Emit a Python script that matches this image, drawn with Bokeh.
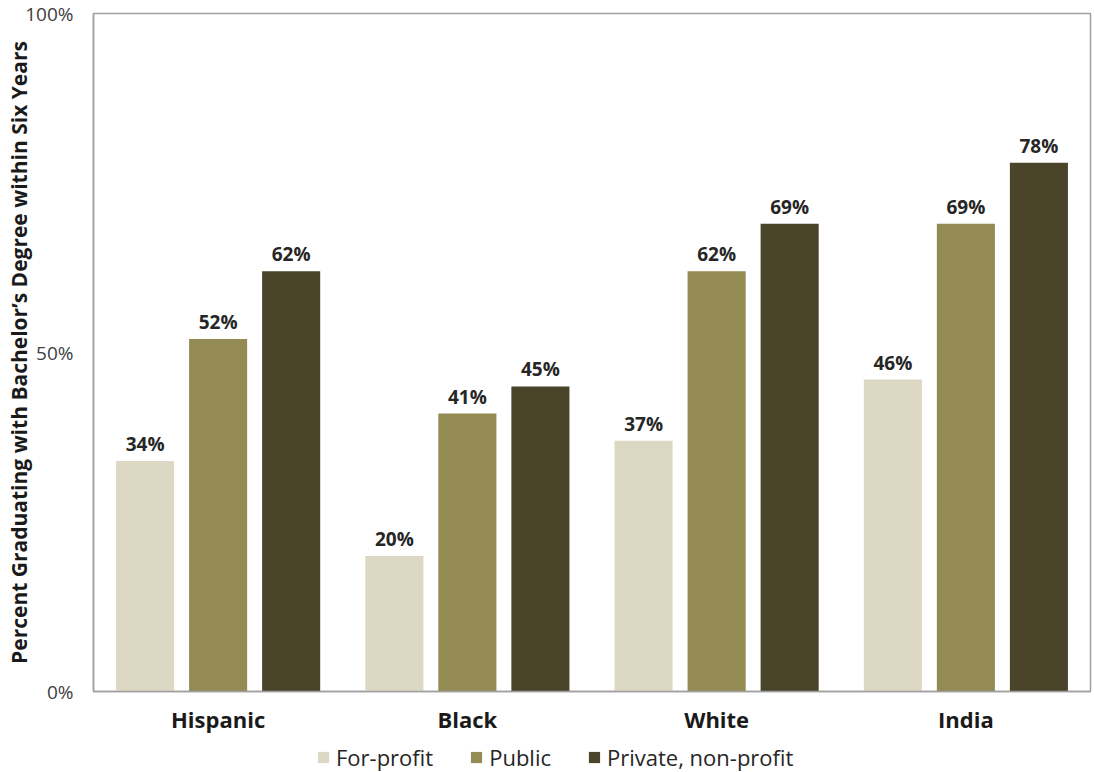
from bokeh.plotting import figure
from bokeh.layouts import column
from bokeh.models import ColumnDataSource, Legend, LegendItem, FixedTicker, Range1d
from bokeh.core.properties import value
from bokeh.embed import file_html
from bokeh.resources import INLINE

categories = ["Hispanic", "Black", "White", "India"]
series_names = ["For-profit", "Public", "Private, non-profit"]
for_profit = [34, 20, 37, 46]
public = [52, 41, 62, 69]
private_np = [62, 45, 69, 78]
y_ticks = [0, 50, 100]
y_tick_labels = ["0%", "50%", "100%"]

colors = ["#DDD8C4", "#948A54", "#4A452A"]
FONT = "Open Sans"

p = figure(width=1094, height=737, output_backend="svg", toolbar_location=None,
           x_range=Range1d(0, 4), y_range=Range1d(0, 100),
           min_border_left=93, min_border_right=4, min_border_top=13, min_border_bottom=46)
p.background_fill_color = "white"
p.border_fill_color = "white"
p.outline_line_color = "#A0A0A0"
p.outline_line_width = 1.5
p.xgrid.visible = False
p.ygrid.visible = False

# legend strip (separate figure under the chart)
lf = figure(width=1094, height=35, output_backend="svg", toolbar_location=None,
            x_range=Range1d(0, 4), y_range=Range1d(500, 535),
            min_border=0, min_border_left=93, min_border_right=4,
            min_border_top=0, min_border_bottom=0)
lf.axis.visible = False
lf.grid.visible = False
lf.outline_line_color = None
lf.background_fill_color = "white"
lf.border_fill_color = "white"

offsets = [-0.293, 0.0, 0.293]
bar_w = 0.233
legend_renderers = []
for vals, off, col in zip([for_profit, public, private_np], offsets, colors):
    xs = [i + 0.5 + off for i in range(len(categories))]
    src = ColumnDataSource(dict(x=xs, top=vals, lab=[f"{v}%" for v in vals]))
    p.vbar(x="x", top="top", width=bar_w, bottom=0, source=src,
           fill_color=col, line_color=None)
    p.text(x="x", y="top", text="lab", source=src, text_align="center",
           text_baseline="bottom", y_offset=-4, text_font=value(FONT),
           text_font_style="bold", text_font_size="19px", text_color="#262626")
    # same bars in the legend strip (out of its visible y-range) only to feed the legend
    legend_renderers.append(lf.vbar(x="x", top="top", width=bar_w, bottom=0, source=src,
                                    fill_color=col, line_color=None))

# axes
p.xaxis.ticker = FixedTicker(ticks=[i + 0.5 for i in range(len(categories))])
p.xaxis.major_label_overrides = {i + 0.5: c for i, c in enumerate(categories)}
p.xaxis.major_tick_line_color = None
p.xaxis.minor_tick_line_color = None
p.xaxis.axis_line_color = "#A0A0A0"
p.xaxis.axis_line_width = 1.5
p.xaxis.major_label_text_font = FONT
p.xaxis.major_label_text_font_style = "bold"
p.xaxis.major_label_text_font_size = "22px"
p.xaxis.major_label_text_color = "#1a1a1a"
p.xaxis.major_label_standoff = 6

p.yaxis.ticker = FixedTicker(ticks=y_ticks)
p.yaxis.major_label_overrides = dict(zip(y_ticks, y_tick_labels))
p.yaxis.major_tick_line_color = None
p.yaxis.minor_tick_line_color = None
p.yaxis.axis_line_color = "#A0A0A0"
p.yaxis.axis_line_width = 1.5
p.yaxis.major_label_text_font = FONT
p.yaxis.major_label_text_font_size = "19px"
p.yaxis.major_label_text_color = "#404040"
p.yaxis.major_label_standoff = 14
p.yaxis.axis_label = "Percent Graduating with Bachelor\u2019s Degree within Six Years"
p.yaxis.axis_label_text_font = FONT
p.yaxis.axis_label_text_font_style = "bold"
p.yaxis.axis_label_text_font_size = "21px"
p.yaxis.axis_label_text_color = "#1a1a1a"
p.yaxis.axis_label_standoff = -11

legend = Legend(items=[LegendItem(label=n, renderers=[r]) for n, r in zip(series_names, legend_renderers)],
                orientation="horizontal", location=(223, 0),
                label_text_font=FONT, label_text_font_size="22px", label_text_color="#262626",
                glyph_width=14, glyph_height=14, spacing=36, label_standoff=6,
                background_fill_alpha=0, border_line_color=None, padding=0, margin=0)
lf.add_layout(legend, "center")

layout = column(p, lf, spacing=0)
open("out.html", "w").write(file_html(layout, INLINE))
